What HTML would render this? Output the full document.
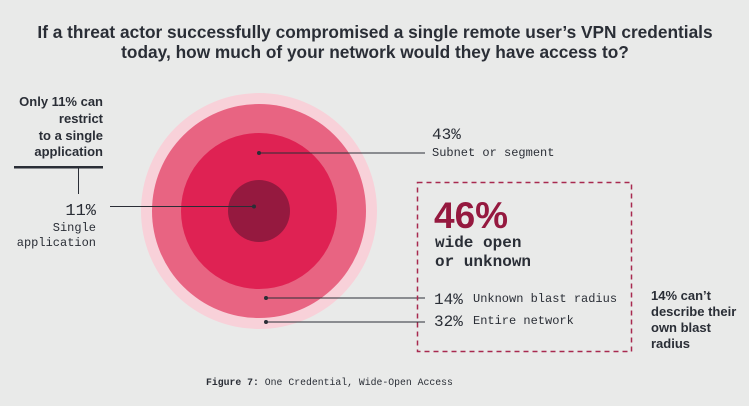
<!DOCTYPE html>
<html><head><style>
body{margin:0;width:749px;height:406px;background:#e9eae9;overflow:hidden;font-family:"Liberation Sans",sans-serif;color:#2a2e36}
</style></head><body>
<svg width="749" height="406" xmlns="http://www.w3.org/2000/svg" style="position:absolute;left:0;top:0">
<text x="375" y="38" text-anchor="middle" font-size="17.3" font-weight="bold" fill="#2a2e36" font-family="Liberation Sans">If a threat actor successfully compromised a single remote user’s VPN credentials</text>
<text x="375" y="58" text-anchor="middle" font-size="17.3" font-weight="bold" fill="#2a2e36" font-family="Liberation Sans">today, how much of your network would they have access to?</text>
<circle cx="259" cy="211" r="118" fill="#f8d1d9"/>
<circle cx="259" cy="211" r="107" fill="#e86482"/>
<circle cx="259" cy="211" r="78" fill="#df2253"/>
<circle cx="259" cy="211" r="31" fill="#95193f"/>
<g fill="#2a2e36" font-family="Liberation Sans" font-weight="bold" font-size="13" text-anchor="end">
<text x="103" y="106">Only 11% can</text>
<text x="103" y="123">restrict</text>
<text x="103" y="140">to a single</text>
<text x="103" y="156">application</text>
</g>
<rect x="14" y="166" width="89" height="2.5" fill="#2a2e36"/>
<rect x="78" y="168" width="1" height="26" fill="#2a2e36"/>
<line x1="110" y1="206.5" x2="254" y2="206.5" stroke="#2a2e36" stroke-width="1"/>
<circle cx="254" cy="206.5" r="2" fill="#2a2e36"/>
<line x1="259" y1="153" x2="425" y2="153" stroke="#2a2e36" stroke-width="1"/>
<circle cx="259" cy="153" r="2" fill="#2a2e36"/>
<line x1="266" y1="298" x2="425" y2="298" stroke="#2a2e36" stroke-width="1"/>
<circle cx="266" cy="298" r="2" fill="#2a2e36"/>
<line x1="266" y1="322" x2="425" y2="322" stroke="#2a2e36" stroke-width="1"/>
<circle cx="266" cy="322" r="2" fill="#2a2e36"/>
<g font-family="Liberation Mono" fill="#2a2e36">
<text x="96" y="215" font-size="17" text-anchor="end">11%</text>
<text x="96" y="231" font-size="12" text-anchor="end">Single</text>
<text x="96" y="246" font-size="12" text-anchor="end">application</text>
<text x="432" y="139" font-size="16">43%</text>
<text x="432" y="156" font-size="12">Subnet or segment</text>
<text x="434" y="304" font-size="16">14%</text>
<text x="473" y="302" font-size="12">Unknown blast radius</text>
<text x="434" y="326" font-size="16">32%</text>
<text x="473" y="324" font-size="12">Entire network</text>
<text x="435" y="247" font-size="16" font-weight="bold">wide open</text>
<text x="435" y="266" font-size="16" font-weight="bold">or unknown</text>
</g>
<text x="434" y="228" font-size="37" font-weight="bold" fill="#95193f" font-family="Liberation Sans">46%</text>
<rect x="417.5" y="182.5" width="214" height="169" fill="none" stroke="#a8294f" stroke-width="1.5" stroke-dasharray="5,4"/>
<g fill="#2a2e36" font-family="Liberation Sans" font-weight="bold" font-size="13">
<text x="651" y="300">14% can’t</text>
<text x="651" y="316">describe their</text>
<text x="651" y="332">own blast</text>
<text x="651" y="348">radius</text>
</g>
<text x="206" y="385" font-size="9.8" font-family="Liberation Mono" fill="#2a2e36"><tspan font-weight="bold">Figure 7:</tspan> One Credential, Wide-Open Access</text>
</svg>
</body></html>
